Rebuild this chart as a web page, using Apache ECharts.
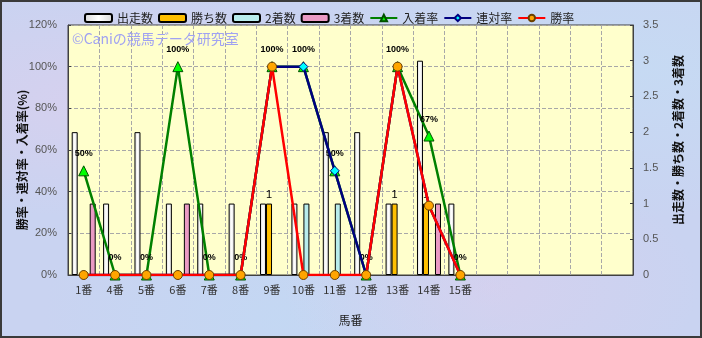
<!DOCTYPE html>
<html><head><meta charset="utf-8">
<script src="https://cdn.jsdelivr.net/npm/echarts@6/dist/echarts.min.js"></script>
<style>
html,body{margin:0;padding:0;}
#c{width:702px;height:338px;
background:
 radial-gradient(ellipse at 15% 30%, rgba(230,205,235,0.45), rgba(230,205,235,0) 35%),
 radial-gradient(ellipse at 70% 85%, rgba(228,205,235,0.4), rgba(228,205,235,0) 30%),
 radial-gradient(ellipse at 90% 20%, rgba(195,225,245,0.5), rgba(195,225,245,0) 40%),
 radial-gradient(ellipse at 40% 95%, rgba(190,220,245,0.5), rgba(190,220,245,0) 40%),
 #c9d3f1;}
</style></head><body><div id="c"></div>
<script>
// categories (horse numbers) plus empty slots
const categories = ['1番','4番','5番','6番','7番','8番','9番','10番','11番','12番','13番','14番','15番','','','','',''];
// counts (right axis)
const starts  = [2,1,2,1,1,1,1,1,2,2,1,3,1];
const wins    = [0,0,0,0,0,0,1,0,0,0,1,1,0];
const seconds = [0,0,0,0,0,0,0,1,1,0,0,0,0];
const thirds  = [1,0,0,1,0,0,0,0,0,0,0,1,0];
// rates in % (left axis)
const placeRate    = [50,0,0,100,0,0,100,100,50,0,100,66.7,0];
const quinellaRate = [0,0,0,0,0,0,100,100,50,0,100,33.3,0];
const winRate      = [0,0,0,0,0,0,100,0,0,0,100,33.3,0];
// axis tick settings
const leftTicks  = {min:0, max:120, interval:20};
const rightTicks = {min:0, max:3.5, interval:0.5};

const nz = a => a.map(v => v === 0 ? null : v);
const font = '"Noto Sans CJK JP", "Liberation Sans", sans-serif';

const barBase = (name, data, color, extra) => Object.assign({
  name, type:'bar', yAxisIndex:1, data:nz(data), barWidth:6, barGap:'0%',
  itemStyle:{color, borderColor:'#000', borderWidth:1}, z:2
}, extra||{});

const chart = echarts.init(document.getElementById('c'), null, {renderer:'canvas'});
chart.setOption({
  animation:false,
  backgroundColor:'transparent',
  textStyle:{fontFamily:font},
  legend:{
    top:7, left:79, itemWidth:27, itemHeight:8, itemGap:5,
    textStyle:{fontSize:12, color:'#222', fontFamily:font},
    data:[
      {name:'出走数', icon:'roundRect'},
      {name:'勝ち数', icon:'roundRect'},
      {name:'2着数', icon:'roundRect'},
      {name:'3着数', icon:'roundRect'},
      {name:'入着率'},{name:'連対率'},{name:'勝率'}
    ]
  },
  grid:{left:68, right:69, top:25, bottom:63, show:true, backgroundColor:'#ffffcc', borderColor:'#404040', borderWidth:1},
  xAxis:{
    type:'category', data:categories,
    axisLine:{lineStyle:{color:'#404040'}},
    axisTick:{show:false},
    axisLabel:{interval:0, fontSize:11, color:'#333', margin:9, fontFamily:font},
    splitLine:{show:true, lineStyle:{type:'dashed', color:'#a8a8a8', width:1}},
    name:'馬番', nameLocation:'middle', nameGap:39,
    nameTextStyle:{fontSize:12, color:'#222', fontFamily:font}
  },
  yAxis:[
    {type:'value', min:leftTicks.min, max:leftTicks.max, interval:leftTicks.interval,
     axisLine:{show:true, lineStyle:{color:'#404040'}},
     axisTick:{show:true, inside:true, length:3, lineStyle:{color:'#404040'}},
     axisLabel:{formatter:'{value}%', fontSize:11, color:'#555', margin:11, fontFamily:'"Liberation Sans", sans-serif'},
     splitLine:{show:true, lineStyle:{type:'dashed', color:'#a8a8a8'}}},
    {type:'value', min:rightTicks.min, max:rightTicks.max, interval:rightTicks.interval,
     axisLine:{show:true, lineStyle:{color:'#404040'}},
     axisTick:{show:true, inside:true, length:3, lineStyle:{color:'#404040'}},
     axisLabel:{fontSize:11, color:'#555', margin:10, fontFamily:'"Liberation Sans", sans-serif'},
     splitLine:{show:false}}
  ],
  graphic:[
    {type:'text', left:72, top:32, z:1, silent:true,
     style:{text:'©Caniの競馬データ研究室', fill:'#a0a2f2', font:'14px '+font}},
    {type:'text', x:22, y:160, rotation:Math.PI/2,
     style:{text:'勝率・連対率・入着率(%)', fill:'#111', font:'bold 12px '+font, textAlign:'center', textVerticalAlign:'middle'}},
    {type:'text', x:678, y:140, rotation:Math.PI/2,
     style:{text:'出走数・勝ち数・2着数・3着数', fill:'#111', font:'bold 12px '+font, textAlign:'center', textVerticalAlign:'middle'}},
    {type:'rect', shape:{x:1, y:1, width:700, height:336}, z:100, silent:true,
     style:{fill:null, stroke:'#3a3a3a', lineWidth:2}}
  ],
  series:[
    barBase('出走数', starts, new echarts.graphic.LinearGradient(0,0,1,0,[{offset:0,color:'#d8d8d8'},{offset:0.5,color:'#ffffff'},{offset:1,color:'#d8d8d8'}])),
    barBase('勝ち数', wins, '#ffc000', {label:{show:true, position:'top', distance:3, fontSize:11, color:'#000', fontFamily:'"Liberation Sans", sans-serif'}}),
    barBase('2着数', seconds, '#b8ecec'),
    barBase('3着数', thirds, '#ea9ac4'),
    {name:'入着率', type:'line', data:placeRate, z:5,
     symbol:'triangle', symbolSize:10,
     itemStyle:{color:'#00ff00', borderColor:'#005000', borderWidth:1},
     lineStyle:{color:'#008000', width:2.5},
     label:{show:true, position:'top', distance:7, formatter:p=>Math.round(p.value)+'%',
            fontSize:9, fontWeight:'bold', color:'#000', fontFamily:'"Liberation Sans", sans-serif'}},
    {name:'連対率', type:'line', data:quinellaRate, z:6,
     symbol:'diamond', symbolSize:9,
     itemStyle:{color:'#00ffff', borderColor:'#000080', borderWidth:1},
     lineStyle:{color:'#000080', width:2.5}},
    {name:'勝率', type:'line', data:winRate, z:7,
     symbol:'circle', symbolSize:9,
     itemStyle:{color:'#ffa500', borderColor:'#6a4000', borderWidth:1},
     lineStyle:{color:'#ff0000', width:2.5}}
  ]
});
</script></body></html>
